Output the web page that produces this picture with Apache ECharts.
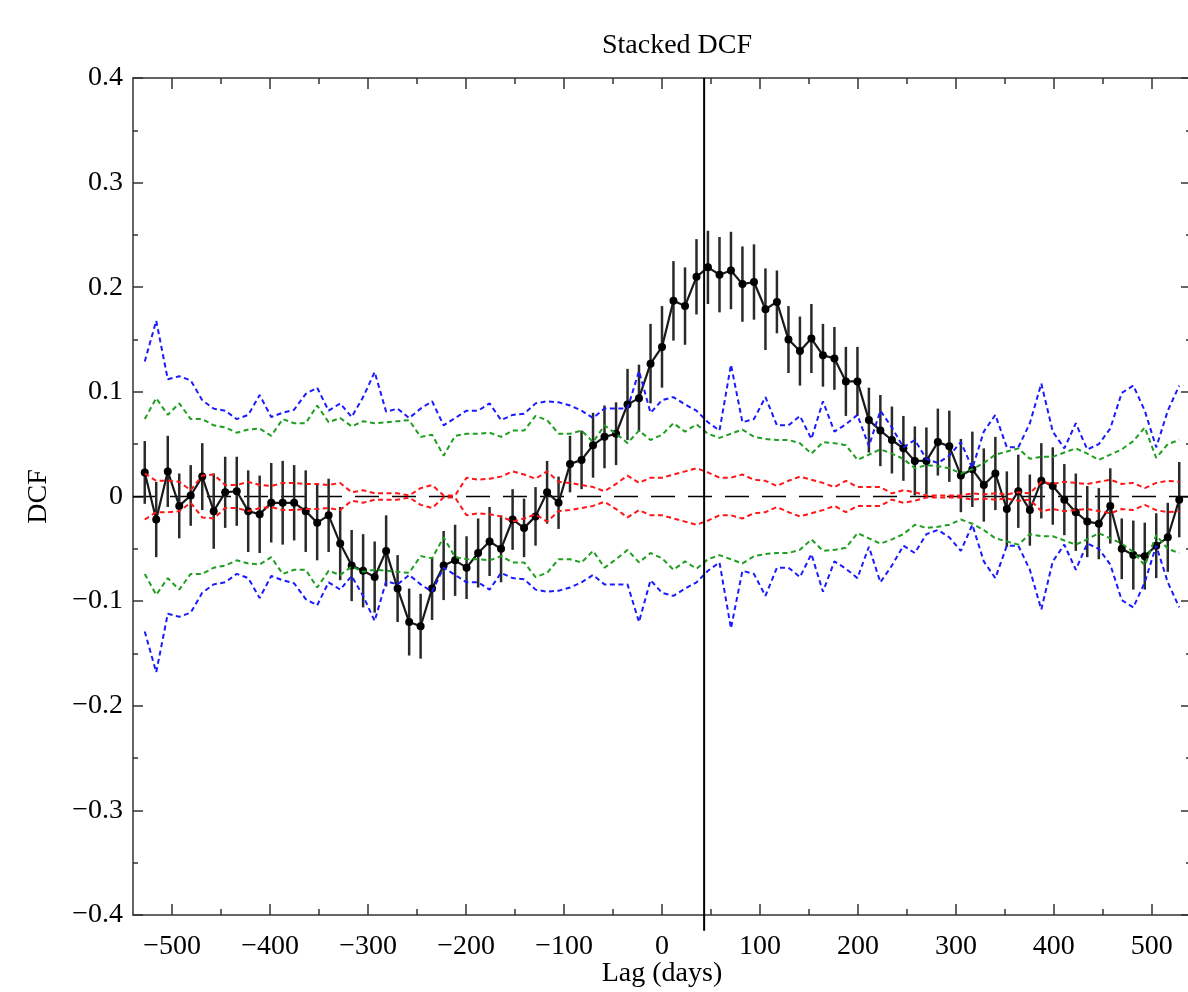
<!DOCTYPE html>
<html><head><meta charset="utf-8">
<script src="https://cdn.jsdelivr.net/npm/echarts@6/dist/echarts.min.js"></script>
<style>html,body{margin:0;padding:0;background:#fff;overflow:hidden}#c{width:1188px;height:992px}</style>
</head><body><div id="c"></div>
<script>
const lags = [-528.0,-516.3,-504.5,-492.8,-481.1,-469.3,-457.6,-445.9,-434.1,-422.4,
 -410.7,-398.9,-387.2,-375.5,-363.7,-352.0,-340.3,-328.5,-316.8,-305.1,
 -293.3,-281.6,-269.9,-258.1,-246.4,-234.7,-222.9,-211.2,-199.5,-187.7,
 -176.0,-164.3,-152.5,-140.8,-129.1,-117.3,-105.6,-93.9,-82.1,-70.4,
 -58.7,-46.9,-35.2,-23.5,-11.7,0.0,11.7,23.5,35.2,46.9,
 58.7,70.4,82.1,93.9,105.6,117.3,129.1,140.8,152.5,164.3,
 176.0,187.7,199.5,211.2,222.9,234.7,246.4,258.1,269.9,281.6,
 293.3,305.1,316.8,328.5,340.3,352.0,363.7,375.5,387.2,398.9,
 410.7,422.4,434.1,445.9,457.6,469.3,481.1,492.8,504.5,516.3,
 528.0];
const dcf = [0.023,-0.022,0.024,-0.009,0.001,0.019,-0.014,0.004,0.005,-0.014,
 -0.017,-0.006,-0.006,-0.006,-0.014,-0.025,-0.018,-0.045,-0.066,-0.071,
 -0.077,-0.052,-0.088,-0.120,-0.124,-0.088,-0.066,-0.061,-0.068,-0.054,
 -0.043,-0.050,-0.022,-0.030,-0.019,0.004,-0.006,0.031,0.035,0.049,
 0.057,0.060,0.088,0.094,0.127,0.143,0.187,0.182,0.210,0.219,
 0.212,0.216,0.203,0.205,0.179,0.186,0.150,0.139,0.151,0.135,
 0.132,0.110,0.110,0.073,0.063,0.054,0.046,0.034,0.034,0.052,
 0.048,0.020,0.026,0.011,0.022,-0.012,0.005,-0.013,0.015,0.010,
 -0.003,-0.015,-0.024,-0.026,-0.009,-0.050,-0.056,-0.057,-0.047,-0.039,
 -0.003];
const dcfErr = [0.030,0.036,0.034,0.031,0.029,0.032,0.036,0.034,0.033,0.039,
 0.037,0.038,0.040,0.036,0.039,0.036,0.035,0.035,0.034,0.035,
 0.034,0.034,0.032,0.032,0.031,0.030,0.033,0.034,0.030,0.033,
 0.033,0.032,0.029,0.028,0.028,0.030,0.025,0.027,0.028,0.031,
 0.030,0.030,0.034,0.032,0.038,0.039,0.038,0.037,0.036,0.035,
 0.036,0.037,0.036,0.036,0.039,0.030,0.032,0.033,0.033,0.030,
 0.030,0.033,0.033,0.031,0.034,0.032,0.031,0.033,0.032,0.032,
 0.034,0.035,0.036,0.035,0.035,0.036,0.035,0.034,0.036,0.037,
 0.034,0.037,0.034,0.034,0.036,0.029,0.033,0.032,0.031,0.033,
 0.036];
const blueUpper = [0.129,0.168,0.112,0.115,0.111,0.092,0.084,0.082,0.074,0.078,
 0.097,0.076,0.080,0.083,0.098,0.104,0.082,0.089,0.076,0.095,
 0.119,0.081,0.084,0.075,0.084,0.091,0.068,0.075,0.082,0.082,
 0.089,0.073,0.078,0.079,0.089,0.091,0.090,0.087,0.082,0.075,
 0.084,0.084,0.084,0.120,0.080,0.092,0.095,0.088,0.082,0.071,
 0.063,0.126,0.071,0.074,0.095,0.068,0.068,0.077,0.055,0.091,
 0.062,0.069,0.078,0.048,0.082,0.066,0.047,0.054,0.036,0.032,
 0.039,0.052,0.027,0.062,0.078,0.047,0.047,0.070,0.108,0.062,
 0.046,0.070,0.045,0.050,0.065,0.099,0.106,0.082,0.047,0.082,
 0.106];
const blueLower = [-0.129,-0.168,-0.112,-0.115,-0.111,-0.092,-0.084,-0.082,-0.074,-0.078,
 -0.097,-0.076,-0.080,-0.083,-0.098,-0.104,-0.082,-0.089,-0.076,-0.095,
 -0.119,-0.081,-0.084,-0.075,-0.084,-0.091,-0.068,-0.075,-0.082,-0.082,
 -0.089,-0.073,-0.078,-0.079,-0.089,-0.091,-0.090,-0.087,-0.082,-0.075,
 -0.084,-0.084,-0.084,-0.120,-0.080,-0.092,-0.095,-0.088,-0.082,-0.071,
 -0.063,-0.126,-0.071,-0.074,-0.095,-0.068,-0.068,-0.077,-0.055,-0.091,
 -0.062,-0.069,-0.078,-0.048,-0.082,-0.066,-0.047,-0.054,-0.036,-0.032,
 -0.039,-0.052,-0.027,-0.062,-0.078,-0.047,-0.047,-0.070,-0.108,-0.062,
 -0.046,-0.070,-0.045,-0.050,-0.065,-0.099,-0.106,-0.082,-0.047,-0.082,
 -0.106];
const greenUpper = [0.074,0.094,0.078,0.089,0.074,0.074,0.068,0.066,0.061,0.064,
 0.065,0.058,0.074,0.070,0.070,0.087,0.071,0.075,0.067,0.072,
 0.070,0.071,0.072,0.073,0.057,0.059,0.039,0.058,0.060,0.060,
 0.061,0.057,0.063,0.063,0.077,0.073,0.060,0.060,0.063,0.052,
 0.068,0.060,0.051,0.063,0.054,0.059,0.070,0.062,0.069,0.060,
 0.056,0.060,0.064,0.057,0.055,0.054,0.054,0.051,0.041,0.052,
 0.051,0.049,0.035,0.040,0.045,0.041,0.036,0.027,0.030,0.029,
 0.027,0.022,0.026,0.032,0.040,0.043,0.046,0.036,0.038,0.038,
 0.042,0.046,0.041,0.035,0.040,0.045,0.053,0.066,0.037,0.050,
 0.054];
const greenLower = [-0.074,-0.094,-0.078,-0.089,-0.074,-0.074,-0.068,-0.066,-0.061,-0.064,
 -0.065,-0.058,-0.074,-0.070,-0.070,-0.087,-0.071,-0.075,-0.067,-0.072,
 -0.070,-0.071,-0.072,-0.073,-0.057,-0.059,-0.039,-0.058,-0.060,-0.060,
 -0.061,-0.057,-0.063,-0.063,-0.077,-0.073,-0.060,-0.060,-0.063,-0.052,
 -0.068,-0.060,-0.051,-0.063,-0.054,-0.059,-0.070,-0.062,-0.069,-0.060,
 -0.056,-0.060,-0.064,-0.057,-0.055,-0.054,-0.054,-0.051,-0.041,-0.052,
 -0.051,-0.049,-0.035,-0.040,-0.045,-0.041,-0.036,-0.027,-0.030,-0.029,
 -0.027,-0.022,-0.026,-0.032,-0.040,-0.043,-0.046,-0.036,-0.038,-0.038,
 -0.042,-0.046,-0.041,-0.035,-0.040,-0.045,-0.053,-0.066,-0.037,-0.050,
 -0.054];
const redUpper = [0.022,0.015,0.015,0.014,0.006,0.020,0.021,0.011,0.011,0.014,
 0.011,0.010,0.013,0.013,0.012,0.012,0.011,0.013,0.004,0.006,
 0.003,0.003,0.003,0.001,0.008,0.011,0.001,0.001,0.018,0.016,
 0.017,0.019,0.024,0.021,0.017,0.024,0.014,0.013,0.011,0.009,
 0.005,0.012,0.020,0.013,0.018,0.018,0.021,0.024,0.027,0.023,
 0.018,0.018,0.021,0.016,0.015,0.010,0.015,0.019,0.016,0.013,
 0.009,0.015,0.009,0.009,0.009,0.003,0.006,0.004,0.001,0.001,
 0.001,0.001,0.003,0.002,0.003,0.002,0.004,0.003,0.014,0.012,
 0.014,0.013,0.012,0.014,0.016,0.012,0.013,0.008,0.013,0.015,
 0.014];
const redLower = [-0.022,-0.015,-0.015,-0.014,-0.006,-0.020,-0.021,-0.011,-0.011,-0.014,
 -0.011,-0.010,-0.013,-0.013,-0.012,-0.012,-0.011,-0.013,-0.004,-0.006,
 -0.003,-0.003,-0.003,-0.001,-0.008,-0.011,-0.001,-0.001,-0.018,-0.016,
 -0.017,-0.019,-0.024,-0.021,-0.017,-0.024,-0.014,-0.013,-0.011,-0.009,
 -0.005,-0.012,-0.020,-0.013,-0.018,-0.018,-0.021,-0.024,-0.027,-0.023,
 -0.018,-0.018,-0.021,-0.016,-0.015,-0.010,-0.015,-0.019,-0.016,-0.013,
 -0.009,-0.015,-0.009,-0.009,-0.009,-0.003,-0.006,-0.004,-0.001,-0.001,
 -0.001,-0.001,-0.003,-0.002,-0.003,-0.002,-0.004,-0.003,-0.014,-0.012,
 -0.014,-0.013,-0.012,-0.014,-0.016,-0.012,-0.013,-0.008,-0.013,-0.015,
 -0.014];
const xMajorTicks = [-500,-400,-300,-200,-100,0,100,200,300,400,500];
const xMinorTicks = [-450,-350,-250,-150,-50,50,150,250,350,450];
const markerLag = 43;

const FONT = 'Liberation Serif';
const AX = '#333';
const minus = s => String(s).replace('-', '\u2212');
const yFmt = v => { const r = Math.round(v * 10) / 10; return r === 0 ? '0' : minus(r.toFixed(1)); };
const xFmt = v => minus(Math.round(v));
const pairs = arr => lags.map((x, i) => [x, arr[i]]);

function xAx(pos, major, showLabel) {
  return {
    type: 'value', min: -540, max: 540, position: pos, gridIndex: 0,
    axisLine: { show: major, onZero: false, lineStyle: { color: AX, width: 1.5 } },
    axisTick: { show: true, inside: true, length: major ? 11 : 6, customValues: major ? xMajorTicks : xMinorTicks, lineStyle: { color: AX, width: 1.5 } },
    axisLabel: showLabel ? { show: true, customValues: xMajorTicks, formatter: xFmt, fontFamily: FONT, fontSize: 28, color: '#000', margin: 18 } : { show: false },
    splitLine: { show: false },
    name: showLabel ? 'Lag (days)' : '', nameLocation: 'middle', nameGap: 45, nameMoveOverlap: false,
    nameTextStyle: { fontFamily: FONT, fontSize: 28, color: '#000' }
  };
}
function yAx(pos, showLabel) {
  return {
    type: 'value', min: -0.4, max: 0.4, interval: 0.1, position: pos,
    axisLine: { show: showLabel, onZero: false, lineStyle: { color: AX, width: 1.5 } },
    axisTick: { show: true, inside: true, length: 10, lineStyle: { color: AX, width: 1.5 } },
    minorTick: { show: true, splitNumber: 2, length: 5, lineStyle: { color: AX, width: 1.5 } },
    axisLabel: showLabel ? { show: true, formatter: yFmt, fontFamily: FONT, fontSize: 28, color: '#000', margin: 10 } : { show: false },
    splitLine: { show: false },
    name: showLabel ? 'DCF' : '', nameLocation: 'middle', nameGap: 80, nameRotate: 90, nameMoveOverlap: false,
    nameTextStyle: { fontFamily: FONT, fontSize: 28, color: '#000' }
  };
}
function dashed(data, color) {
  return { type: 'line', data: pairs(data), showSymbol: false, symbol: 'none', z: 4,
    lineStyle: { color: color, width: 2, type: [5, 3.5] }, silent: true };
}

const chart = echarts.init(document.getElementById('c'), null, { renderer: 'canvas' });
chart.setOption({
  animation: false,
  backgroundColor: '#fff',
  title: { text: 'Stacked DCF', left: 677, top: 32, textAlign: 'center', padding: 0,
    textStyle: { fontFamily: FONT, fontSize: 28, fontWeight: 'normal', color: '#000' } },
  grid: { left: 133, right: -3, top: 78, bottom: 77, containLabel: false, outerBoundsMode: 'none' },
  xAxis: [xAx('bottom', true, true), xAx('top', true, false), xAx('bottom', false, false), xAx('top', false, false)],
  yAxis: [yAx('left', true), yAx('right', false)],
  series: [
    { type: 'line', data: [[-540, 0], [540, 0]], symbol: 'none', z: 1, silent: true,
      lineStyle: { color: '#000', width: 1.6, type: [24, 13] } },
    { type: 'custom', z: 2, silent: true,
      data: lags.map((x, i) => [x, dcf[i], dcfErr[i]]), encode: { x: 0, y: 1 },
      renderItem: (params, api) => {
        const x = api.value(0), y = api.value(1), e = api.value(2);
        const p1 = api.coord([x, y - e]), p2 = api.coord([x, y + e]);
        return { type: 'line', shape: { x1: p1[0], y1: p1[1], x2: p2[0], y2: p2[1] },
          style: { stroke: '#2a2a2a', lineWidth: 2.5 } };
      } },
    { type: 'line', data: pairs(dcf), z: 3, symbol: 'circle', symbolSize: 8, showSymbol: true,
      itemStyle: { color: '#000' }, lineStyle: { color: '#1a1a1a', width: 2.2 }, silent: true },
    dashed(blueUpper, '#1a1aff'), dashed(blueLower, '#1a1aff'),
    dashed(greenUpper, '#1f9e1f'), dashed(greenLower, '#1f9e1f'),
    dashed(redUpper, '#ff1515'), dashed(redLower, '#ff1515'),
    { type: 'line', data: [[markerLag, 0.4], [markerLag, -0.415]], symbol: 'none', z: 5, clip: false, silent: true,
      lineStyle: { color: '#000', width: 2 } }
  ]
});
</script></body></html>
